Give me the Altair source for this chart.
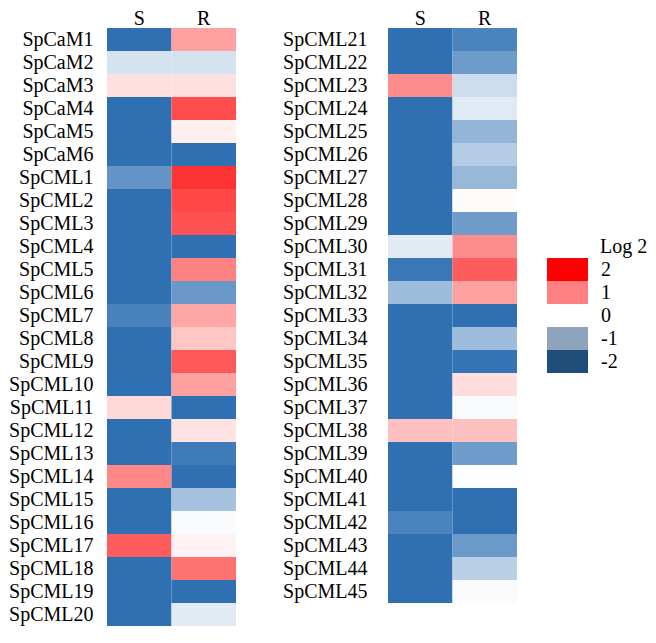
import altair as alt
import pandas as pd

# ---------------- data ----------------
conditions = ["S", "R"]

left_genes = ["SpCaM1", "SpCaM2", "SpCaM3", "SpCaM4", "SpCaM5", "SpCaM6",
              "SpCML1", "SpCML2", "SpCML3", "SpCML4", "SpCML5", "SpCML6",
              "SpCML7", "SpCML8", "SpCML9", "SpCML10", "SpCML11", "SpCML12",
              "SpCML13", "SpCML14", "SpCML15", "SpCML16", "SpCML17", "SpCML18",
              "SpCML19", "SpCML20"]
left_S = [-2.0, -0.4, 0.3, -2.0, -2.0, -2.0,
          -1.5, -2.0, -2.0, -2.0, -2.0, -2.0,
          -1.75, -2.0, -2.0, -2.0, 0.37, -2.0,
          -2.0, 1.15, -2.0, -2.0, 1.55, -2.0,
          -2.0, -2.0]
left_R = [0.9, -0.4, 0.3, 1.7, 0.15, -2.0,
          1.95, 1.75, 1.65, -2.0, 1.2, -1.45,
          0.85, 0.55, 1.6, 0.9, -2.0, 0.28,
          -1.84, -2.0, -0.87, -0.05, 0.12, 1.35,
          -2.0, -0.28]

right_genes = ["SpCML21", "SpCML22", "SpCML23", "SpCML24", "SpCML25", "SpCML26",
               "SpCML27", "SpCML28", "SpCML29", "SpCML30", "SpCML31", "SpCML32",
               "SpCML33", "SpCML34", "SpCML35", "SpCML36", "SpCML37", "SpCML38",
               "SpCML39", "SpCML40", "SpCML41", "SpCML42", "SpCML43", "SpCML44",
               "SpCML45"]
right_S = [-2.0, -2.0, 1.1, -2.0, -2.0, -2.0,
           -2.0, -2.0, -2.0, -0.28, -1.9, -0.93,
           -2.0, -2.0, -2.0, -2.0, -2.0, 0.6,
           -2.0, -2.0, -2.0, -1.74, -2.0, -2.0,
           -2.0]
right_R = [-1.74, -1.4, -0.48, -0.3, -1.03, -0.72,
           -1.0, 0.04, -1.38, 1.1, 1.55, 0.9,
           -2.0, -0.93, -1.95, 0.33, -0.07, 0.6,
           -1.38, -0.02, -2.0, -2.0, -1.42, -0.66,
           -0.06]

legend_title = "Log 2"
legend_levels = ["2", "1", "0", "-1", "-2"]
legend_colors = ["#FF0000", "#FF8080", "#FFFFFF", "#8EA4BC", "#1F4E79"]

# ---------------- style ----------------
FONT = "Liberation Serif"
ROW = 23
CELL_W = 129

color_scale = alt.Scale(domain=[-2, 0, 2],
                        range=["#2F70B3", "#FFFFFF", "#FF2E2E"],
                        interpolate="rgb", clamp=True)


def long_df(genes, s_vals, r_vals):
    rows = []
    for g, a, b in zip(genes, s_vals, r_vals):
        rows.append({"gene": g, "cond": "S", "val": a})
        rows.append({"gene": g, "cond": "R", "val": b})
    return pd.DataFrame(rows)


def heat(df, genes, label_pad):
    return alt.Chart(df).mark_rect().encode(
        x=alt.X("cond:N", sort=conditions, title=None,
                scale=alt.Scale(paddingInner=0, paddingOuter=0),
                axis=alt.Axis(orient="top", labelAngle=0, ticks=False, domain=False,
                              labelFontSize=20, labelFont=FONT, labelPadding=0,
                              labelColor="black")),
        y=alt.Y("gene:N", sort=genes, title=None,
                scale=alt.Scale(paddingInner=0, paddingOuter=0),
                axis=alt.Axis(ticks=False, domain=False, labelFontSize=20,
                              labelFont=FONT, labelPadding=label_pad,
                              labelColor="black")),
        color=alt.Color("val:Q", scale=color_scale, legend=None),
    )


left = heat(long_df(left_genes, left_S, left_R), left_genes, 14).properties(
    width=CELL_W, height=ROW * len(left_genes))

right_heat = heat(long_df(right_genes, right_S, right_R), right_genes, 21)

leg_df = pd.DataFrame({"lvl": legend_levels})
leg_scale = alt.Scale(domain=legend_levels, range=[230, 230 + 23 * 5],
                      paddingInner=0, paddingOuter=0)

leg_rect = alt.Chart(leg_df).mark_rect().encode(
    x=alt.value(159), x2=alt.value(200),
    y=alt.Y("lvl:N", sort=legend_levels, axis=None, scale=leg_scale),
    color=alt.Color("lvl:N", scale=alt.Scale(domain=legend_levels, range=legend_colors),
                    legend=None),
)
leg_text = alt.Chart(leg_df).mark_text(
    align="left", baseline="middle", font=FONT, fontSize=20, color="black"
).encode(
    x=alt.value(213),
    y=alt.Y("lvl:N", sort=legend_levels, axis=None, scale=leg_scale),
    text="lvl:N",
)
leg_title = alt.Chart(pd.DataFrame({"t": [legend_title]})).mark_text(
    align="left", baseline="middle", font=FONT, fontSize=20, color="black"
).encode(x=alt.value(212), y=alt.value(219), text="t:N")

right = alt.layer(right_heat, leg_rect, leg_text, leg_title).resolve_scale(
    y="independent", color="independent"
).properties(width=CELL_W, height=ROW * len(right_genes))

chart = alt.hconcat(left, right, spacing=46).properties(
    padding={"left": 0, "top": 0, "right": 0, "bottom": 0}
).configure_view(stroke=None)

chart.save("out.html", embed_options={"renderer": "svg", "actions": False})
